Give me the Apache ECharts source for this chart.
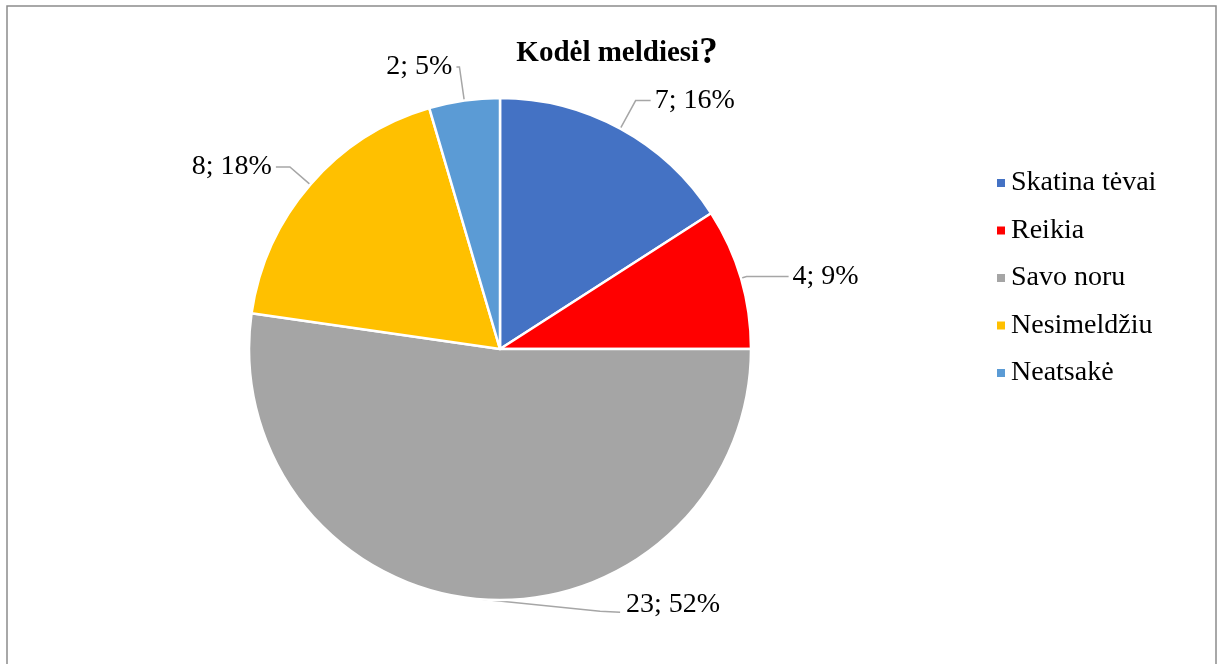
<!DOCTYPE html>
<html>
<head>
<meta charset="utf-8">
<script src="https://cdn.jsdelivr.net/npm/echarts@6/dist/echarts.min.js"></script>
<style>
    html, body {margin: 0; padding: 0; background: #fff;}
    #main {width: 1218px; height: 664px;}
</style>
</head>
<body>
<div id="main"></div>
<script>
var categories = ['Skatina tėvai', 'Reikia', 'Savo noru', 'Nesimeldžiu', 'Neatsakė'];
var counts = [7, 4, 23, 8, 2];
var percents = [16, 9, 52, 18, 5];
var colors = ['#4472C4', '#FF0000', '#A5A5A5', '#FFC000', '#5B9BD5'];

var serif = '"Liberation Serif", "Times New Roman", serif';
var chart = echarts.init(document.getElementById('main'));

//每个扇区引导线长度
var lineLens = [[32, 15], [6, 42], [10, 10], [27, 14], [34, 3]];

var pieData = [];
for (var i = 0; i < categories.length; i++) {
    pieData.push({
        name: categories[i],
        value: counts[i],
        pct: percents[i],
        itemStyle: {color: colors[i]},
        labelLine: {length: lineLens[i][0], length2: lineLens[i][1]}
    });
}

var option = {
    animation: false,
    backgroundColor: '#fff',
    title: {
        text: '{t|Kodėl meldiesi}{q|?}',
        left: 612,
        top: 30,
        textAlign: 'center',
        textStyle: {
            rich: {
                t: {fontFamily: serif, fontWeight: 'bold', fontSize: 29, color: '#000'},
                q: {fontFamily: serif, fontWeight: 'bold', fontSize: 37, color: '#000'}
            }
        }
    },
    legend: {
        orient: 'vertical',
        left: 990,
        top: 163,
        icon: 'rect',
        itemWidth: 10,
        itemHeight: 10,
        itemGap: 17.5,
        selectedMode: false,
        textStyle: {fontFamily: serif, fontSize: 28, color: '#000', lineHeight: 30},
        data: categories
    },
    graphic: [{
        type: 'rect',
        shape: {x: 7, y: 6, width: 1209, height: 700},
        style: {fill: 'none', stroke: '#8c8c8c', lineWidth: 1.5},
        silent: true
    }],
    series: [{
        type: 'pie',
        center: [500, 349],
        radius: [0, 251],
        startAngle: 90,
        clockwise: true,
        avoidLabelOverlap: false,
        itemStyle: {borderColor: '#fff', borderWidth: 2.5},
        emphasis: {disabled: true},
        label: {
            show: true,
            position: 'outside',
            fontFamily: serif,
            fontSize: 28,
            color: '#000',
            distanceToLabelLine: 4,
            formatter: function (p) {
                return p.value + '; ' + p.data.pct + '%';
            }
        },
        labelLine: {
            show: true,
            lineStyle: {color: '#A6A6A6', width: 1.5}
        },
        labelLayout: function (params) {
            // 23; 52% 标签放在右侧
            if (params.dataIndex !== 2 || !params.labelLinePoints) return {};
            var p0 = params.labelLinePoints[0];
            var p1 = [p0[0] + 118, p0[1] + 12];
            var p2 = [p0[0] + 138, p0[1] + 13];
            return {
                x: p2[0] + 6,
                y: p2[1] - 8,
                align: 'left',
                verticalAlign: 'middle',
                labelLinePoints: [p0, p1, p2]
            };
        },
        data: pieData
    }]
};
chart.setOption(option);
</script>
</body>
</html>
